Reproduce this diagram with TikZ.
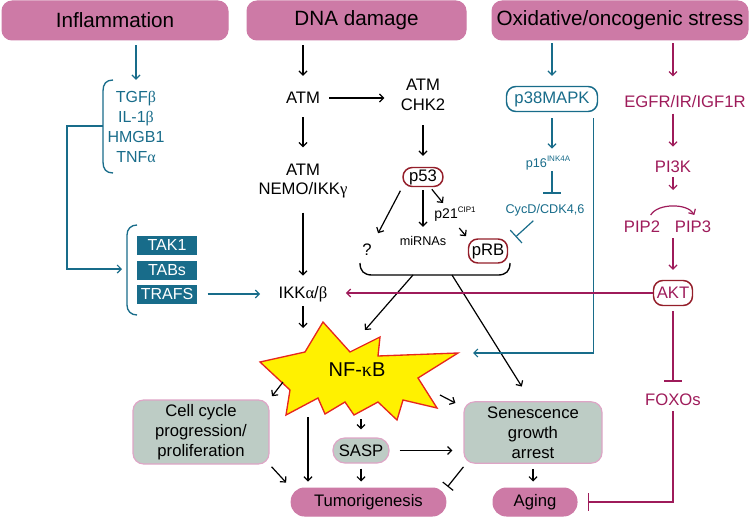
\documentclass[tikz,border=0pt]{standalone}
\usepackage{fontspec}
\setmainfont{Liberation Sans}
\newfontfamily\grkfont{Liberation Serif}
\usetikzlibrary{arrows.meta}

\definecolor{hdrpink}{RGB}{205,122,166}
\definecolor{tealc}{RGB}{24,108,138}
\definecolor{magc}{RGB}{158,27,90}
\definecolor{ovred}{RGB}{148,30,42}
\definecolor{sage}{RGB}{189,204,197}
\definecolor{sageedge}{RGB}{222,165,198}
\definecolor{staryel}{RGB}{255,241,0}
\definecolor{starred}{RGB}{230,38,30}

\newcommand{\gk}[1]{{\grkfont #1}}
\newcommand{\sups}[1]{\raisebox{0.45em}{\fontsize{6}{6}\selectfont #1}}

\tikzset{every picture/.style={line width=0.75pt}}
\tikzset{
  hdr/.style={fill=hdrpink, draw=hdrpink, rounded corners=7.5pt, minimum height=29.25pt, inner sep=0.75pt, font=\fontsize{15.5}{18}\selectfont},
  lbl/.style={inner sep=0.75pt, align=center, font=\fontsize{12.5}{14.5}\selectfont},
  smtxt/.style={lbl, font=\fontsize{9.5}{11}\selectfont},
  oval/.style={lbl, draw=ovred, line width=1.1pt, rounded corners=7pt},
  tbox/.style={lbl, fill=tealc, text=white, minimum width=45pt, minimum height=14.25pt, font=\fontsize{12}{14}\selectfont},
  gbox/.style={lbl, fill=sage, draw=sageedge, line width=0.9pt, rounded corners=8pt, font=\fontsize{12.5}{15}\selectfont},
  pbox/.style={lbl, fill=hdrpink, draw=hdrpink, rounded corners=10pt, minimum height=21pt},
  brk/.style={draw=tealc, line width=1pt},
  barr/.style={draw=black, line width=0.9pt, -{Straight Barb[length=3pt,width=6pt]}},
  tarr/.style={barr, draw=tealc},
  marr/.style={barr, draw=magc},
  binh/.style={draw=black, line width=0.9pt, -{Bar[width=10pt]}},
  tinh/.style={binh, draw=tealc, -{Bar[width=13pt]}},
  minh/.style={binh, draw=magc, -{Bar[width=13pt]}}
}

\begin{document}
\begin{tikzpicture}[x=0.75pt,y=0.75pt,yscale=-1,xscale=1]
\useasboundingbox (0,0) rectangle (750,517);

%Rounded Rect: headers
\draw (115,20.5) node (inflam) [hdr, minimum width=169.5pt] {Inflammation};
\draw (356.5,20.5) node (dnadmg) [hdr, minimum width=164.25pt] {DNA damage};
\draw (620,20.5) node (oxstress) [hdr, minimum width=192pt] {Oxidative/oncogenic stress};

%Shape: NF-kB star
\draw [fill=staryel, draw=starred, line width=1pt] (323,322) -- (350,352) -- (380,337) -- (378,356) -- (458,353) -- (418,378) -- (437,408) -- (403,400) -- (397,420) -- (378,402) -- (354,415) -- (345,402) -- (325,414) -- (318,398) -- (286,415) -- (290,390) -- (260,362) -- (305,352) -- cycle;
\coordinate (nfA) at (303,328);
\coordinate (nfB) at (365,330);
\coordinate (nfC) at (283,382);
\coordinate (nfD) at (440,395);
\coordinate (nfE) at (361,419);
\coordinate (nfF) at (308,417);
\coordinate (nfR) at (458,353);

% Text Node
\draw (357,370) node (nfkb) [lbl, font=\fontsize{15}{18}\selectfont] {NF-\gk{κ}B};

% Text Node: inflammation branch
\draw (136,127) node (cytok) [lbl, text=tealc, font=\fontsize{12}{15}\selectfont] {TGF\gk{β}\\IL-1\gk{β}\\HMGB1\\TNF\gk{α}};
\draw (167,245) node (tak1) [tbox] {TAK1};
\draw (167,270) node (tabs) [tbox] {TABs};
\draw (167,294) node (trafs) [tbox] {TRAFS};
%Curve Lines: brackets
\draw [brk] (113,80) .. controls (106,80) and (103,84) .. (103,91) -- (103,162) .. controls (103,169) and (106,173) .. (113,173);
\draw [brk] (137,225) .. controls (131,225) and (127,229) .. (127,235) -- (127,305) .. controls (127,311) and (131,315) .. (137,315);
\coordinate (brk1) at (103,126);
\coordinate (brk2) at (127,269);

% Text Node: DNA damage branch
\draw (303,98) node (atm) [lbl] {ATM};
\draw (423,95) node (chk) [lbl, font=\fontsize{12.5}{15}\selectfont] {ATM\\CHK2};
\draw (303,181) node (nemo) [lbl] {ATM\\NEMO/IKK\gk{γ}};
\draw (303,294) node (ikk) [lbl] {IKK\gk{α}/\gk{β}};
\draw (423,177) node (p53) [oval, minimum width=30pt, minimum height=14.25pt] {p53};
\draw (367,250) node (unk) [lbl] {?};
\draw (423,241) node (mirna) [smtxt] {miRNAs};
\draw (455,214) node (p21) [smtxt, font=\fontsize{10.5}{12}\selectfont] {p21\sups{CIP1}};
\coordinate (p21in) at (443,203);
\draw (488,251) node (prb) [oval, minimum width=29.25pt, minimum height=18pt] {pRB};
%Curve Lines: brace
\draw [line width=1pt] (360,263) .. controls (360,271) and (364,275) .. (372,275) -- (498,275) .. controls (506,275) and (510,271) .. (510,263);
\coordinate (bl) at (413,275);
\coordinate (br) at (452,275);

% Text Node: stress branch
\draw (552,99) node (p38) [lbl, draw=tealc, text=tealc, line width=1.1pt, rounded corners=7pt, minimum width=68.25pt, minimum height=18.75pt] {p38MAPK};
\draw (548,163) node (p16) [smtxt, text=tealc] {p16\sups{INK4A}};
\draw (545,210) node (cycd) [smtxt, text=tealc] {CycD/CDK4,6};
\draw (685,102) node (egfr) [lbl, text=magc] {EGFR/IR/IGF1R};
\draw (673,167) node (pi3k) [lbl, text=magc] {PI3K};
\draw (642,227) node (pip2) [lbl, text=magc] {PIP2};
\draw (693,227) node (pip3) [lbl, text=magc] {PIP3};
\coordinate (pipmid) at (673,190);
\draw (673,293) node (akt) [oval, text=magc, minimum width=29.25pt, minimum height=18.75pt] {AKT};
\draw (673,400) node (foxo) [lbl, text=magc] {FOXOs};

%Rounded Rect: outcomes
\draw (201,432) node (cell) [gbox, minimum width=102pt, minimum height=48pt] {Cell cycle\\progression/\\proliferation};
\draw (533,432.5) node (sen) [gbox, minimum width=103.5pt, minimum height=46pt] {Senescence\\growth\\arrest};
\draw (361,450.5) node (sasp) [gbox, rounded corners=9pt, minimum width=42pt, minimum height=18.75pt] {SASP};
\draw (368.5,502) node (tum) [pbox, minimum width=116pt] {Tumorigenesis};
\draw (535,502) node (aging) [pbox, minimum width=63pt] {Aging};

%Straight Lines: inflammation
\draw [tarr, shorten <=3.75pt, shorten >=7.5pt] (inflam.south -| cytok.north) -- (cytok.north);
\draw [tarr, shorten >=3.75pt] (brk1) -- ++(-36,0) |- (brk2);
\draw [tarr, shorten <=7.5pt, shorten >=12.75pt] (trafs.east) -- (trafs.east -| ikk.west);

%Straight Lines: DNA damage
\draw [barr, shorten <=3.75pt, shorten >=11.25pt] (dnadmg.south -| atm.north) -- (atm.north);
\draw [barr, shorten <=6pt, shorten >=11.25pt] (atm.east) -- (atm.east -| chk.west);
\draw [barr, shorten <=9pt, shorten >=11.25pt] (atm.south) -- (nemo.north);
\draw [barr, shorten <=9.75pt, shorten >=6.75pt] (nemo.south) -- (ikk.north);
\draw [barr, shorten <=9.75pt, shorten >=8.25pt] (chk.south) -- (p53.north);
\draw [barr, shorten <=3pt, shorten >=8pt] (p53.south west) -- (unk.north east);
\draw [barr, shorten <=2.25pt, shorten >=6pt] (p53.south) -- (mirna.north);
\draw [barr, shorten <=2pt] (p53.-55) -- (p21in);
\draw [barr, shorten <=5pt, shorten >=2pt] (p21.south) -- (prb.north west);
\draw [barr] (bl) -- (nfB);
\draw [barr, shorten >=13pt] (br) -- ([xshift=-1.5pt]sen.north);
\draw [barr, shorten <=2.25pt] (ikk.south) -- (nfA);

%Straight Lines: stress
\draw [tarr, shorten <=2.25pt, shorten >=7.5pt] (oxstress.south -| p38.north) -- (p38.north);
\draw [tarr, shorten <=4.5pt, shorten >=4.5pt] (p38.south) -- (p38.south |- p16.north);
\draw [tinh, shorten >=6.75pt] (p38.south |- p16.south) -- (p38.south |- cycd.north);
\draw [tinh, shorten <=3.75pt, shorten >=7.5pt] ([xshift=-6pt]cycd.south) -- (prb.20);
\draw [tarr, shorten <=4.5pt, shorten >=11.25pt] ([xshift=-3.75pt]p38.south east) |- (nfR);
\draw [marr, shorten <=2.25pt, shorten >=13.5pt] (oxstress.south -| pi3k.north) -- (pi3k.north |- egfr.north);
\draw [marr, shorten <=3pt, shorten >=9.75pt] (pi3k.north |- egfr.south) -- (pi3k.north);
\draw [marr, shorten <=2.25pt] (pi3k.south) -- (pipmid);
\draw [marr, shorten <=4pt, shorten >=4pt] ([xshift=4.5pt]pip2.north) to[bend right=60] ([xshift=3pt]pip3.north);
\draw [marr, shorten <=3pt, shorten >=7.5pt] (akt.north |- pip3.south) -- (akt.north);
\draw [marr, shorten >=12.75pt] (akt.west) -- (akt.west -| ikk.east);
\draw [minh, shorten <=3.75pt, shorten >=8.25pt] (akt.south) -- (akt.south |- foxo.north);
\draw [minh, shorten <=3pt, shorten >=7.5pt] (foxo.south) |- (aging.east);

%Straight Lines: outcomes
\draw [barr, shorten >=3pt] (nfC) -- (cell.north east);
\draw [barr, shorten >=6.75pt] (nfD) -- (sen.160);
\draw [barr, shorten >=6pt] (nfE) -- (sasp.north);
\draw [barr, shorten >=4.5pt] (nfF) -- (nfF |- tum.north);
\draw [barr, shorten <=7.5pt, shorten >=8.25pt] (sasp.east) -- (sasp.east -| sen.west);
\draw [barr, shorten <=3.75pt, shorten >=4.5pt] (sasp.south) -- (sasp.south |- tum.north);
\draw [barr, shorten <=2.25pt, shorten >=5pt] (cell.south east) -- (tum.north west);
\draw [binh, shorten <=3pt, shorten >=1.5pt] (sen.205) -- (tum.10);
\draw [barr, shorten <=3.75pt, shorten >=4.5pt] (sen.south) -- (sen.south |- aging.north);

\end{tikzpicture}
\end{document}
